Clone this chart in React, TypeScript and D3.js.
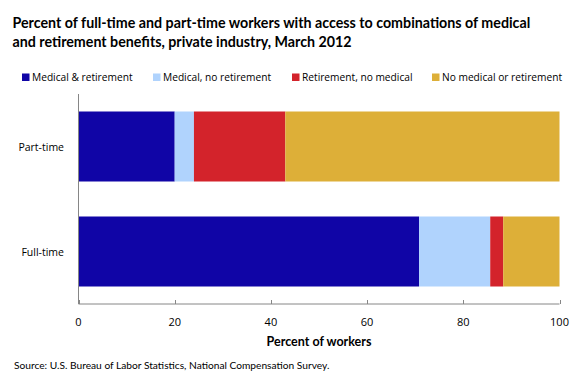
import React from "react";
import * as d3 from "d3";

const categories = ["Part-time", "Full-time"];
const seriesNames = [
  "Medical & retirement",
  "Medical, no retirement",
  "Retirement, no medical",
  "No medical or retirement",
];
const medicalAndRetirement = [20, 70.8];
const medicalNoRetirement = [4, 14.8];
const retirementNoMedical = [19, 2.7];
const noMedicalOrRetirement = [57, 11.7];
const xTicks = [0, 20, 40, 60, 80, 100];
const seriesColors = ["#1005A6", "#B0D3FD", "#D3232B", "#DDAF38"];

const titleLines = [
  "Percent of full-time and part-time workers with access to combinations of medical",
  "and retirement benefits, private industry, March 2012",
];
const xTitle = "Percent of workers";
const source = "Source: U.S. Bureau of Labor Statistics, National Compensation Survey.";

const W = 580;
const H = 377;
const plotLeft = 78.5;
const plotRight = 559.5;
const plotTop = 94;
const plotBottom = 304;
const legendX = [22, 153, 292, 432];

const titleFont = "Lato, 'Open Sans', sans-serif";
const bodyFont = "'Open Sans', 'DejaVu Sans', sans-serif";

export default function App() {
  const keys = ["a", "b", "c", "d"];
  const rows = categories.map((c, i) => ({
    cat: c,
    a: medicalAndRetirement[i],
    b: medicalNoRetirement[i],
    c: retirementNoMedical[i],
    d: noMedicalOrRetirement[i],
  }));
  const stacked = d3.stack<any>().keys(keys)(rows);

  const x = d3.scaleLinear().domain([0, 100]).range([plotLeft, plotRight]);
  const y = d3
    .scaleBand<string>()
    .domain(categories)
    .range([plotTop, plotBottom])
    .paddingInner(1 / 3)
    .paddingOuter(1 / 6);

  return (
    <svg
      width={W}
      height={H}
      style={{ position: "absolute", left: 0, top: 0, display: "block", background: "#fff" }}
    >
      {titleLines.map((t, i) => (
        <text
          key={i}
          x={12.5}
          y={28 + i * 19}
          fontFamily={titleFont}
          fontWeight="bold"
          fontSize={14.25}
          fill="#000"
        >
          {t}
        </text>
      ))}

      {seriesNames.map((s, i) => (
        <g key={s} transform={`translate(${legendX[i]},0)`}>
          <rect x={0} y={73.5} width={7.5} height={7.5} fill={seriesColors[i]} />
          <text x={10} y={80.8} fontFamily={bodyFont} fontSize={10.2} fill="#000">
            {s}
          </text>
        </g>
      ))}

      {stacked.map((layer, li) => (
        <g key={li} fill={seriesColors[li]}>
          {layer.map((d: any, di: number) => (
            <rect
              key={di}
              x={x(d[0])}
              y={y(d.data.cat)}
              width={x(d[1]) - x(d[0])}
              height={y.bandwidth()}
            />
          ))}
        </g>
      ))}

      {/* axes */}
      <line x1={plotLeft} x2={plotLeft} y1={plotTop} y2={plotBottom} stroke="#868686" strokeWidth={1} />
      <line x1={plotLeft} x2={plotRight} y1={plotBottom} y2={plotBottom} stroke="#868686" strokeWidth={1} />
      {xTicks.map((t) => (
        <g key={t}>
          <line
            x1={Math.round(x(t)) + 0.5}
            x2={Math.round(x(t)) + 0.5}
            y1={plotBottom}
            y2={plotBottom - 4}
            stroke="#868686"
          />
          <text
            x={x(t)}
            y={326}
            textAnchor="middle"
            fontFamily={bodyFont}
            fontSize={11}
            fill="#000"
          >
            {t}
          </text>
        </g>
      ))}
      {categories.map((c) => (
        <text
          key={c}
          x={64}
          y={(y(c) as number) + y.bandwidth() / 2 + 4}
          textAnchor="end"
          fontFamily={bodyFont}
          fontSize={10.5}
          fill="#000"
        >
          {c}
        </text>
      ))}
      <text
        x={(plotLeft + plotRight) / 2}
        y={346}
        textAnchor="middle"
        fontFamily={titleFont}
        fontWeight="bold"
        fontSize={12.5}
        fill="#000"
      >
        {xTitle}
      </text>
      <text x={14} y={369} fontFamily={titleFont} fontSize={10.2} fill="#000">
        {source}
      </text>
    </svg>
  );
}
